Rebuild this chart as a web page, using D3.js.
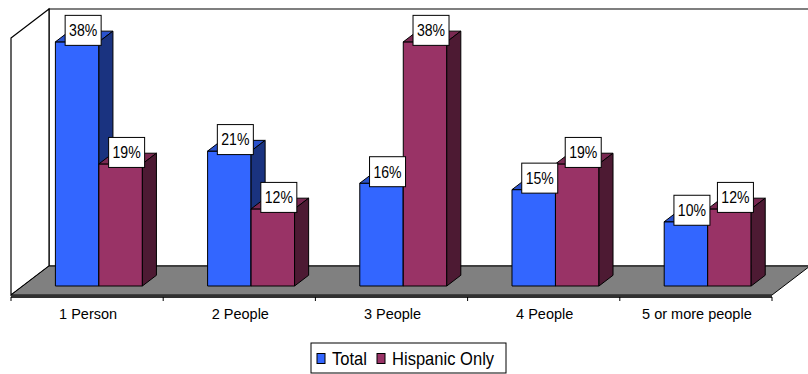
<!DOCTYPE html>
<html>
<head>
<meta charset="utf-8">
<script src="https://cdn.jsdelivr.net/npm/d3@7"></script>
<style>
  html, body { margin: 0; padding: 0; background: #ffffff; }
  svg { display: block; }
  text { font-family: Arial, "Liberation Sans", sans-serif; fill: #000; }
</style>
</head>
<body>
<svg id="chart" width="808" height="374"></svg>
<script>
// Household size categories and share of households per group
const categories = ["1 Person", "2 People", "3 People", "4 People", "5 or more people"];
const seriesNames = ["Total", "Hispanic Only"];
const totalValues = [0.38, 0.21, 0.16, 0.15, 0.10];
const hispanicValues = [0.19, 0.12, 0.38, 0.19, 0.12];
const valueMax = 0.40;

// Face colours of the 3-D columns: front, top, side
const palette = {
  "Total":         { front: "#3366ff", top: "#2a52cc", side: "#1a3380" },
  "Hispanic Only": { front: "#993366", top: "#7a2952", side: "#4d1a33" }
};

const svg = d3.select("#chart");

// Oblique projection: front floor edge, depth vector and wall height
const front = { x0: 11, x1: 772, y: 295 };
const depth = { dx: 38, dy: -29 };
const wallHeight = 257;
const barOffset = 0.31;   // fraction of the floor depth in front of the columns
const barDepth = 0.37;    // column depth as a fraction of the floor depth

const xCat = d3.scaleBand().domain(categories).range([0, front.x1 - front.x0]).padding(0);
const barW = xCat.bandwidth() / 3.5;                       // gap width 150%
const xSer = d3.scaleBand().domain(seriesNames).range([0.75 * barW, 2.75 * barW]).padding(0);
const yH = d3.scaleLinear().domain([0, valueMax]).range([0, wallHeight]);

const pts = a => a.map(p => p.join(",")).join(" ");

// Walls
const backX = front.x0 + depth.dx, backY = front.y + depth.dy;
const g = svg.append("g");
g.append("polygon")
  .attr("points", pts([[backX, backY - wallHeight], [backX + (front.x1 - front.x0), backY - wallHeight],
                       [backX + (front.x1 - front.x0), backY], [backX, backY]]))
  .attr("fill", "#ffffff").attr("stroke", "#000").attr("stroke-width", 1.2);
g.append("polygon")
  .attr("points", pts([[front.x0, front.y - wallHeight], [backX, backY - wallHeight],
                       [backX, backY], [front.x0, front.y]]))
  .attr("fill", "#ffffff").attr("stroke", "#000").attr("stroke-width", 1.2);

// Floor
g.append("polygon")
  .attr("points", pts([[front.x0, front.y], [backX, backY],
                       [front.x1 + depth.dx, backY], [front.x1, front.y]]))
  .attr("fill", "#808080").attr("stroke", "#000").attr("stroke-width", 1);
g.append("rect")
  .attr("x", front.x0).attr("y", front.y)
  .attr("width", front.x1 - front.x0).attr("height", 3)
  .attr("fill", "#303030");

// Category ticks and labels
const tickXs = categories.map(c => front.x0 + xCat(c)).concat([front.x1]);
g.selectAll("line.tick").data(tickXs).join("line")
  .attr("class", "tick")
  .attr("x1", d => d).attr("x2", d => d)
  .attr("y1", front.y + 2).attr("y2", front.y + 6)
  .attr("stroke", "#000").attr("stroke-width", 1);
g.selectAll("text.cat").data(categories).join("text")
  .attr("class", "cat")
  .attr("x", d => front.x0 + xCat(d) + xCat.bandwidth() / 2 + 1)
  .attr("y", 318.5)
  .attr("text-anchor", "middle")
  .attr("font-size", "14.5px")
  .text(d => d);

// Columns
const bars = [];
categories.forEach((c, i) => {
  seriesNames.forEach((s, j) => {
    const v = j === 0 ? totalValues[i] : hispanicValues[i];
    const x = front.x0 + depth.dx * barOffset + xCat(c) + xSer(s);
    const yb = front.y + depth.dy * barOffset;
    bars.push({ cat: c, series: s, value: v, x: x, yb: yb, yt: yb - yH(v) });
  });
});

const ddx = depth.dx * barDepth, ddy = depth.dy * barDepth;
const barG = svg.append("g");
bars.forEach(b => {
  const col = palette[b.series];
  const w = xSer.bandwidth();
  barG.append("polygon")   // front
    .attr("points", pts([[b.x, b.yt], [b.x + w, b.yt], [b.x + w, b.yb], [b.x, b.yb]]))
    .attr("fill", col.front).attr("stroke", "#000").attr("stroke-width", 1).attr("stroke-linejoin", "round");
  barG.append("polygon")   // top
    .attr("points", pts([[b.x, b.yt], [b.x + ddx, b.yt + ddy], [b.x + w + ddx, b.yt + ddy], [b.x + w, b.yt]]))
    .attr("fill", col.top).attr("stroke", "#000").attr("stroke-width", 1).attr("stroke-linejoin", "round");
  barG.append("polygon")   // side
    .attr("points", pts([[b.x + w, b.yt], [b.x + w + ddx, b.yt + ddy], [b.x + w + ddx, b.yb + ddy], [b.x + w, b.yb]]))
    .attr("fill", col.side).attr("stroke", "#000").attr("stroke-width", 1).attr("stroke-linejoin", "round");
});

// Value labels in boxes
const fmt = d3.format(".0%");
const lab = svg.append("g");
bars.forEach(b => {
  const cx = b.x + xSer.bandwidth() / 2 + 6;
  const cy = b.yt - 11.5;
  lab.append("rect")
    .attr("x", cx - 18).attr("y", cy - 15)
    .attr("width", 36).attr("height", 30)
    .attr("fill", "#ffffff").attr("stroke", "#000").attr("stroke-width", 1);
  lab.append("text")
    .attr("transform", `translate(${cx},${cy + 5.8}) scale(0.88,1)`)
    .attr("text-anchor", "middle")
    .attr("font-size", "16px")
    .text(fmt(b.value));
});

// Legend
const leg = svg.append("g");
leg.append("rect")
  .attr("x", 311).attr("y", 343).attr("width", 195).attr("height", 30)
  .attr("fill", "#ffffff").attr("stroke", "#000").attr("stroke-width", 1);
const legX = [317, 377];
seriesNames.forEach((s, i) => {
  leg.append("rect")
    .attr("x", legX[i]).attr("y", 353.5).attr("width", 8).attr("height", 10)
    .attr("fill", palette[s].front).attr("stroke", "#000").attr("stroke-width", 1);
  leg.append("text")
    .attr("transform", `translate(${legX[i] + 15},365) scale(0.92,1)`)
    .attr("font-size", "18px")
    .text(s);
});
</script>
</body>
</html>
